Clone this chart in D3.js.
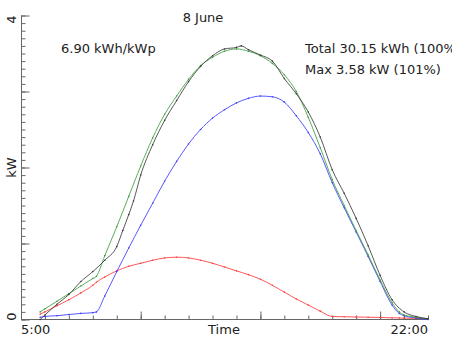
<!DOCTYPE html>
<html><head><meta charset="utf-8">
<script src="https://cdn.jsdelivr.net/npm/d3@7"></script>
<style>
html,body{margin:0;padding:0;background:#fff;}
svg{display:block;font-family:"DejaVu Sans",sans-serif;}
</style></head>
<body><svg id="c" width="452" height="339"></svg>
<script>
// Time of day (hours) for each series
const hoursA = [5.8,6,6.5,7,7.5,8,8.15,8.5,9,9.5,10,10.5,11,11.5,12,12.5,13,13.5,14,14.5,15,15.5,16,16.5,17,17.5,18,18.5,19,19.5,20,20.5,20.8,21,21.5,22];
// total model (green), kW
const totalKW = [0.10,0.14,0.24,0.34,0.44,0.54,0.57,0.84,1.22,1.62,2.02,2.39,2.70,2.94,3.16,3.34,3.45,3.53,3.56,3.53,3.47,3.37,3.22,3.00,2.66,2.26,1.84,1.50,1.17,0.85,0.52,0.22,0.10,0.06,0.03,0.01];
// direct component (blue), kW
const directKW = [0.03,0.04,0.05,0.065,0.08,0.09,0.10,0.31,0.63,0.94,1.24,1.53,1.82,2.08,2.31,2.50,2.65,2.76,2.85,2.91,2.94,2.93,2.86,2.68,2.46,2.18,1.80,1.47,1.15,0.83,0.50,0.19,0.08,0.05,0.02,0.0];
// diffuse component (red), kW
const diffuseKW = [0.07,0.10,0.18,0.26,0.35,0.45,0.49,0.56,0.64,0.70,0.74,0.78,0.81,0.82,0.81,0.78,0.74,0.69,0.64,0.59,0.53,0.45,0.36,0.27,0.19,0.11,0.04,0.036,0.033,0.03,0.027,0.022,0.02,0.018,0.014,0.01];
// measured (black)
const hoursM = [5.8,6,6.5,7,7.5,8,8.5,9,9.25,9.5,9.7,10,10.5,11,11.5,12,12.5,13,13.5,14,14.2,14.5,15,15.5,16,16.5,17,17.5,18,18.5,19,19.5,20,20.5,21,21.5,22];
const measuredKW = [0.0,0.06,0.20,0.33,0.50,0.63,0.78,0.96,1.17,1.38,1.56,1.90,2.30,2.62,2.88,3.13,3.33,3.47,3.56,3.58,3.60,3.55,3.48,3.40,3.17,2.97,2.73,2.40,1.97,1.66,1.33,0.97,0.58,0.26,0.10,0.04,0.01];

const xTicksMajor = [5,10,15,20];
const yTicksMajor = [0,1,2,3,4];
const xLabels = ["5:00","Time","22:00"];
const yLabels = ["4","kW","0"];
const title = "8 June";
const infoLeft = "6.90 kWh/kWp";
const infoRight = ["Total 30.15 kWh (100%)","Max 3.58 kW (101%)"];

const svg = d3.select("#c");
const x = d3.scaleLinear().domain([5,22]).range([21,428]);
const y = d3.scaleLinear().domain([0,4]).range([319.5,15.5]);
const axisColor = "#666";
const textColor = "#222";

// minor + major y ticks (inside)
const gy = svg.append("g").attr("transform","translate(21,0)");
gy.call(d3.axisLeft(y).tickValues(d3.range(0,40.5,1).map(d=>d/10)).tickSize(-4).tickFormat(""));
const gy2 = svg.append("g").attr("transform","translate(21,0)");
gy2.call(d3.axisLeft(y).tickValues(yTicksMajor).tickSize(-8).tickFormat(""));
[gy,gy2].forEach(g=>{g.select(".domain").attr("stroke",axisColor).attr("d","M0.5,"+y(4)+"V"+y(0));g.selectAll(".tick line").attr("stroke",axisColor).attr("transform","translate(0.5,0)");});

const gx = svg.append("g").attr("transform","translate(0,319.5)");
gx.call(d3.axisBottom(x).tickValues(d3.range(5,23,1)).tickSize(-4).tickFormat(""));
const gx2 = svg.append("g").attr("transform","translate(0,319.5)");
gx2.call(d3.axisBottom(x).tickValues(xTicksMajor).tickSize(-8).tickFormat(""));
[gx,gx2].forEach(g=>{g.select(".domain").attr("stroke",axisColor).attr("d","M"+x(5)+",0H"+x(22));g.selectAll(".tick line").attr("stroke",axisColor);});

// lines
const series = [
  {xs:hoursA, ys:diffuseKW, c:"#ff3a3a"},
  {xs:hoursA, ys:directKW, c:"#3a3aff"},
  {xs:hoursA, ys:totalKW, c:"#3c9e3c"},
  {xs:hoursM, ys:measuredKW, c:"#3a3a3a"}
];
const line = d3.line().x(d=>x(d[0])).y(d=>y(d[1])).curve(d3.curveMonotoneX);
series.forEach(s=>{
  const pts = s.xs.map((h,i)=>[h,s.ys[i]]);
  svg.append("path").datum(pts).attr("d",line).attr("fill","none").attr("stroke",s.c).attr("stroke-width",0.85);
  svg.append("g").selectAll("circle").data(pts).join("circle")
    .attr("cx",d=>x(d[0])).attr("cy",d=>y(d[1])).attr("r",0.8).attr("fill",s.c);
});

// text
const T = (t,xx,yy,anchor)=>svg.append("text").attr("x",xx).attr("y",yy).attr("text-anchor",anchor||"start")
  .attr("font-size",13).attr("fill",textColor).text(t);
T(xLabels[0], x(5), 334, "start");
T(xLabels[1], 224, 334, "middle");
T(xLabels[2], x(22), 334, "end");
T(title, 203, 22, "middle");
T(infoLeft, 61, 53, "start");
T(infoRight[0], 305, 53, "start");
T(infoRight[1], 305, 74, "start");
[[yLabels[0],19.5],[yLabels[1],167.5],[yLabels[2],316.5]].forEach(([t,yy])=>{
  svg.append("text").attr("transform",`translate(16,${yy}) rotate(-90)`).attr("text-anchor","middle")
    .attr("font-size",13).attr("fill",textColor).text(t);
});
</script></body></html>
